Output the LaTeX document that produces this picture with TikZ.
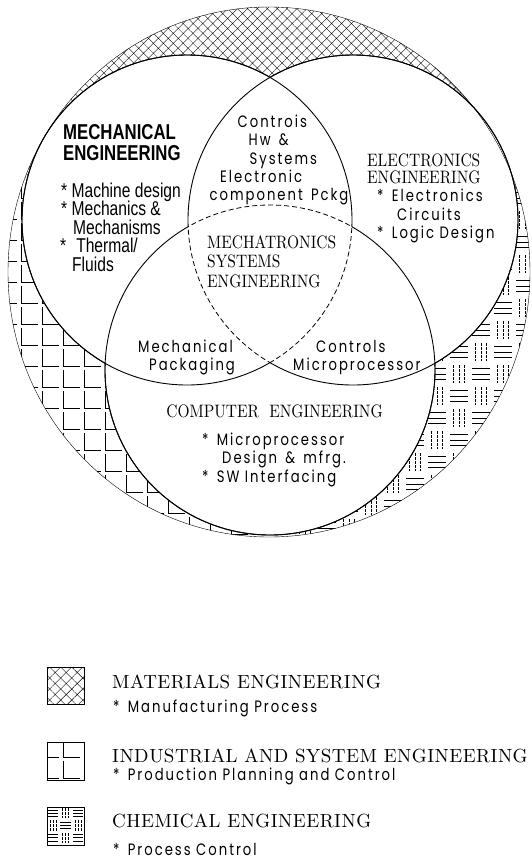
\documentclass[tikz,border=0pt]{standalone}
\usepackage{fontspec}
\usetikzlibrary{patterns.meta}
\newfontfamily\armfont[FakeStretch=0.78]{Liberation Sans}
\newfontfamily\romfont[FakeStretch=0.86]{lmroman10-regular.otf}
\newfontfamily\legfont[LetterSpace=2.5]{lmroman10-regular.otf}
\newfontfamily\cadfont[FakeStretch=0.8, LetterSpace=12]{Poppins}

% one 22pt block of the chemical weave, three lines either way
\newcommand\weave[2]{%
  \pgfmathtruncatemacro\wodd{mod(#1+#2+100,2)}%
  \ifnum\wodd=0
    \foreach \k in {5.5,11,16.5} \draw[weaveh] (22*#1+2, 22*#2+\k) -- ++(18,0);
  \else
    \foreach \k in {5.5,11,16.5} \draw[weavev] (22*#1+\k, 22*#2+2) -- ++(0,18);
  \fi}
% one L cell of the industrial grid
\newcommand\lcell[2]{\draw[lline] (21*#1, 21*#2-17) -- (21*#1, 21*#2) -- (21*#1+17, 21*#2);}

\begin{document}
\begin{tikzpicture}[x=1pt, y=-1pt,
  venn/.style={line width=.9pt},
  core/.style={line width=.8pt, dash pattern=on 5pt off 3pt},
  rim/.style={line width=.4pt},
  lline/.style={line width=.45pt},
  weaveh/.style={line width=.7pt},
  weavev/.style={line width=.4pt, dash pattern=on 3pt off 1pt},
  swatch/.style={line width=.6pt},
  mechhead/.style={font=\armfont\bfseries\fontsize{21.5}{24}\selectfont, anchor=base west, inner sep=0pt},
  mechitem/.style={font=\armfont\fontsize{20}{22}\selectfont, anchor=base west, inner sep=0pt},
  head/.style={font=\romfont\fontsize{18}{20}\selectfont, anchor=base west, inner sep=0pt},
  item/.style={font=\cadfont\fontsize{16.5}{18}\selectfont, anchor=base west, inner sep=0pt},
  legtitle/.style={font=\legfont\fontsize{19}{21}\selectfont, anchor=base west, inner sep=0pt},
]
  \useasboundingbox (0,0) rectangle (531,860);
  \coordinate (O) at (269,272);
  \coordinate (L) at (187,220);
  \coordinate (R) at (353,220);
  \coordinate (C) at (270,370);

  % hatched ring between the big circle and the three disciplines
  \begin{scope}
    \clip (O) ellipse[x radius=261pt, y radius=265pt];
    \fill[pattern={Hatch[angle=45, distance=7pt, line width=.35pt]}]
      (O) -- (560,175) -- (560,-20) -- (-20,-20) -- (-20,160) -- cycle;
    \begin{scope}
      \clip (O) -- (-20,160) -- (-20,560) -- (274,560) -- cycle;
      \begin{scope}[shift={(63,345)}]
        \foreach \i in {-5,...,11} \foreach \j in {-12,...,10} {\lcell{\i}{\j}}
      \end{scope}
    \end{scope}
    \begin{scope}
      \clip (O) -- (274,560) -- (560,560) -- (560,175) -- cycle;
      \begin{scope}[shift={(470,407)}]
        \foreach \i in {-9,...,3} \foreach \j in {-12,...,6} {\weave{\i}{\j}}
      \end{scope}
    \end{scope}
  \end{scope}
  \fill[white] (L) circle[radius=165pt] (R) circle[radius=165pt] (C) circle[radius=165pt];
  \draw[rim] (O) ellipse[x radius=261pt, y radius=265pt];

  % circles: solid outside the common core, dashed round it
  \foreach \a/\b/\c in {L/R/C, R/C/L, C/L/R} {
    \begin{scope}[even odd rule]
      \clip (-50,-50) rectangle (600,600) (\b) circle[radius=165pt];
      \draw[venn] (\a) circle[radius=165pt];
    \end{scope}
    \begin{scope}[even odd rule]
      \clip (-50,-50) rectangle (600,600) (\c) circle[radius=165pt];
      \draw[venn] (\a) circle[radius=165pt];
    \end{scope}
    \begin{scope}
      \clip (\b) circle[radius=165pt];
      \clip (\c) circle[radius=165pt];
      \draw[core] (\a) circle[radius=165pt];
    \end{scope}
  }

  \node[mechhead] (mech1) at (63,139) {MECHANICAL};
  \node[mechhead] (mech2) at (63,160) {ENGINEERING};
  \node[mechitem] (mech3) at (61,197) {* Machine design};
  \node[mechitem] (mech4) at (61,215.5) {* Mechanics \&};
  \node[mechitem] (mech5) at (73,234) {Mechanisms};
  \node[mechitem] (mech6) at (60,252.5) {*\enspace Thermal/};
  \node[mechitem] (mech7) at (72,271) {Fluids};

  \node[item] (hw1) at (237.5,127) {Controis};
  \node[item] (hw2) at (248.5,145.5) {Hw\enspace\&};
  \node[item] (hw3) at (249.5,164) {Systems};
  \node[item] (hw4) at (220,182.5) {Electronic};
  \node[item] (hw5) at (209.5,200.5) {component\enspace Pckg};

  \node[head] (elec1) at (367,166.5) {ELECTRONICS};
  \node[head] (elec2) at (367,183.5) {ENGINEERING};
  \node[item] (elec3) at (377,201.5) {*\enspace Electronics};
  \node[item] (elec4) at (397,220) {Circuits};
  \node[item] (elec5) at (377,238) {*\enspace Logic Design};

  \node[head] (mtr1) at (207,248) {MECHATRONICS};
  \node[head] (mtr2) at (207,267.5) {SYSTEMS};
  \node[head] (mtr3) at (207,287) {ENGINEERING};

  \node[item] (pack1) at (138,352) {Mechanical};
  \node[item] (pack2) at (149,370) {Packaging};
  \node[item] (mpu1) at (316,352) {Controls};
  \node[item] (mpu2) at (293,370) {Microprocessor};

  \node[head, anchor=base] (comp1) at (274.5,417) {COMPUTER\ \ ENGINEERING};
  \node[item] (comp2) at (202,445) {*\enspace Microprocessor};
  \node[item] (comp3) at (222,463.5) {Design\enspace\&\enspace mfrg.};
  \node[item] (comp4) at (202,482) {*\enspace SW Interfacing};

  % legend
  \fill[pattern={Hatch[angle=45, distance=7.8pt, line width=.4pt]}] (47,667) rectangle (84,704);
  \draw[swatch] (47,667) rectangle (84,704);
  \begin{scope}
    \clip (47,742) rectangle (84,780);
    \begin{scope}[shift={(63,757)}]
      \foreach \i in {-1,0,1} \foreach \j in {0,1,2} {\lcell{\i}{\j}}
    \end{scope}
  \end{scope}
  \draw[swatch] (47,742) rectangle (84,780);
  \begin{scope}[shift={(47,807)}, scale=37/66]
    \foreach \i in {0,1,2} \foreach \j in {0,1,2} {\weave{\i}{\j}}
  \end{scope}
  \draw[swatch] (47,807) rectangle (84,845);

  \node[legtitle] (mat1) at (112,688) {MATERIALS ENGINEERING};
  \node[item] (mat2) at (113,712) {*\enspace Manufacturing Process};
  \node[legtitle] (ind1) at (112,762) {INDUSTRIAL AND SYSTEM ENGINEERING};
  \node[item] (ind2) at (113,780) {*\enspace Production Planning and Control};
  \node[legtitle] (chem1) at (112,827) {CHEMICAL ENGINEERING};
  \node[item] (chem2) at (113,855) {*\enspace Process Control};
\end{tikzpicture}
\end{document}
